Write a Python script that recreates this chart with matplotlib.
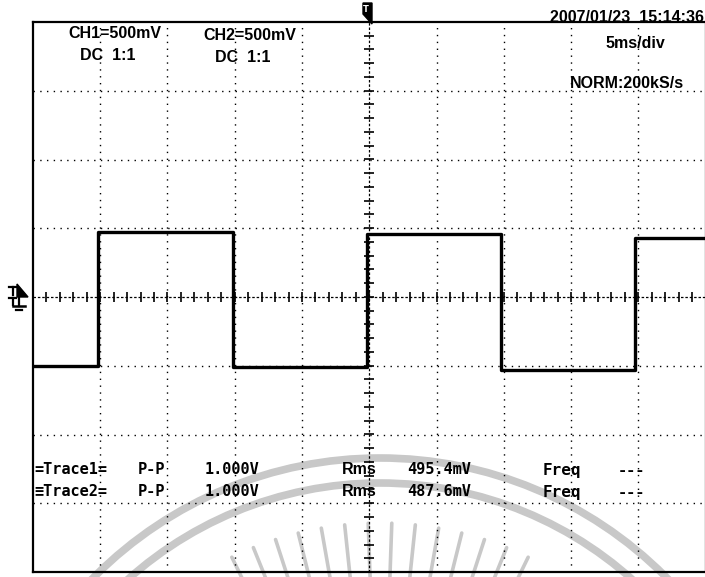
import numpy as np
import matplotlib.pyplot as plt
from matplotlib.patches import Circle, Polygon

W, H = 705, 577

# channel settings / readouts
ch_labels = ['CH1=500mV', 'CH2=500mV']
coupling = ['DC  1:1', 'DC  1:1']
timestamp = '2007/01/23  15:14:36'
timebase = '5ms/div'
acq_mode = 'NORM:200kS/s'
trace_names = ['=Trace1=', '\u2261Trace2=']
pp_values = ['1.000V', '1.000V']
rms_values = ['495.4mV', '487.6mV']
freq_values = ['---', '---']

# square wave (ms, V), edges
t_ms = [-25.0, -20.2, -20.2, -10.1, -10.1, -0.15, -0.15, 9.8, 9.8, 19.75, 19.75, 25.0]
v_V = [-0.50, -0.50, 0.47, 0.47, -0.51, -0.51, 0.46, 0.46, -0.53, -0.53, 0.43, 0.43]

fig = plt.figure(figsize=(W / 100, H / 100), dpi=100)

# background layer in pixel coordinates (watermark, markers, text)
bg = fig.add_axes([0, 0, 1, 1], zorder=0)
bg.set_xlim(0, W)
bg.set_ylim(H, 0)
bg.axis('off')

# faint watermark of the scan
wm = '#c8c8c8'
cx, cy = 380, 861
for r in [403, 378]:
    bg.add_patch(Circle((cx, cy), r, fill=False, ec=wm, lw=5.5))
for ang in np.arange(64, 117, 4):
    a = np.radians(ang)
    bg.plot([cx + 200 * np.cos(a), cx + 338 * np.cos(a)],
            [cy - 200 * np.sin(a), cy - 338 * np.sin(a)],
            color=wm, lw=2.6, solid_capstyle='round')

# scope screen
ax = fig.add_axes([33 / W, 5 / H, 672.5 / W, 550 / H], zorder=1)
ax.set_facecolor('none')
ax.set_xlim(-25, 25)
ax.set_ylim(-2, 2)
ax.set_xticks([])
ax.set_yticks([])
for s in ax.spines.values():
    s.set_linewidth(1.6)
    s.set_color('black')

for x in [-20, -15, -10, -5, 5, 10, 15, 20]:
    ax.axvline(x, color='black', lw=1, ls=(0, (1, 3.95)))
for y in [-1.5, -1.0, -0.5, 0.5, 1.0, 1.5]:
    ax.axhline(y, color='black', lw=1, ls=(0, (1, 3.85)))

# centre axes with minor ticks
ax.axhline(0, color='black', lw=0.9, ls=(0, (2, 1.5)))
ax.axvline(0, color='black', lw=0.9, ls=(0, (2, 1.5)))
ax.plot(np.arange(-25, 25.01, 1.0), np.zeros(51), ls='none', marker='|',
        ms=7, mew=1.2, color='black')
ax.plot(np.zeros(41), np.arange(-2, 2.01, 0.1), ls='none', marker='_',
        ms=7, mew=1.2, color='black')

ax.plot(t_ms, v_V, color='black', lw=2.4, zorder=5)

# trigger marker (top) and ground marker (left)
bg.add_patch(Polygon([[363, 3], [372, 3], [372, 24], [363, 14]], closed=True,
                     fc='black', ec='black', zorder=3))
bg.text(366, 9, 'T', color='white', fontsize=6, fontweight='bold',
        ha='center', va='center', zorder=4)
bg.add_patch(Polygon([[17, 284], [28, 297], [17, 297]], closed=True,
                     fc='black', ec='black'))
bg.plot([9, 16], [287, 287], color='black', lw=1.6)
bg.plot([12.5, 12.5], [287, 295], color='black', lw=1.6)
bg.plot([9, 16], [298, 298], color='black', lw=1.6)
bg.plot([12.5, 12.5], [298, 305], color='black', lw=1.6)
bg.plot([19, 19], [297, 306], color='black', lw=1.6)
bg.plot([13, 25], [306, 306], color='black', lw=1.8)
bg.plot([16, 22], [309.5, 309.5], color='black', lw=1.6)

sans = 'Liberation Sans'
mono = 'DejaVu Sans Mono'

bg.text(68, 34, ch_labels[0], family=sans, fontsize=11.5, fontweight='bold', va='center')
bg.text(80, 55, coupling[0], family=sans, fontsize=11.5, fontweight='bold', va='center')
bg.text(203, 36, ch_labels[1], family=sans, fontsize=11.5, fontweight='bold', va='center')
bg.text(215, 57, coupling[1], family=sans, fontsize=11.5, fontweight='bold', va='center')
bg.text(704, 17, timestamp, family=sans, fontsize=11.5, fontweight='bold',
        ha='right', va='center')
bg.text(605, 43, timebase, family=sans, fontsize=11.5, fontweight='bold', va='center')
bg.text(570, 84, acq_mode, family=sans, fontsize=11.5, fontweight='bold', va='center')

rows_y = [470, 492]
for i, yy in enumerate(rows_y):
    bg.text(34, yy, trace_names[i], family=mono, fontsize=11, fontweight='bold', va='center')
    bg.text(138, yy, 'P-P', family=mono, fontsize=11, fontweight='bold', va='center')
    bg.text(205, yy, pp_values[i], family=mono, fontsize=11, fontweight='bold', va='center')
    bg.text(342, yy, 'Rms', family=sans, fontsize=11.5, fontweight='bold', va='center')
    bg.text(407, yy, rms_values[i], family=mono, fontsize=11, fontweight='bold', va='center')
    bg.text(543, yy, 'Freq', family=mono, fontsize=11.5, fontweight='bold', va='center')
    bg.text(618, yy, freq_values[i], family=mono, fontsize=11, fontweight='bold', va='center')

fig.savefig('out.png', dpi=100)
